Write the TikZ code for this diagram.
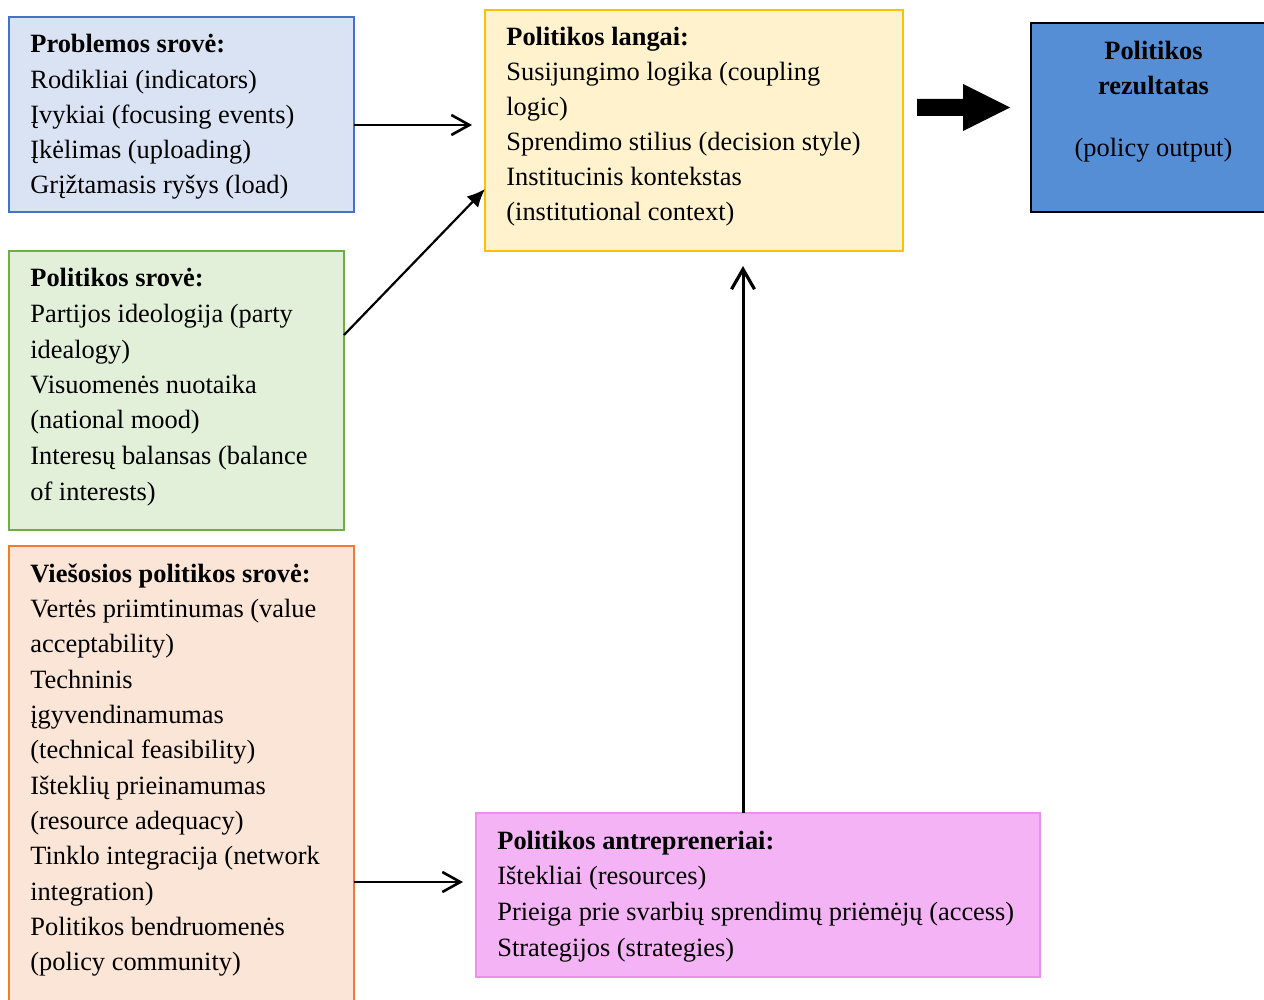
\documentclass[tikz,border=0pt]{standalone}
\usepackage{fontspec}
\setmainfont{Liberation Serif}
\usetikzlibrary{arrows.meta}
\definecolor{probfill}{HTML}{DAE3F3}
\definecolor{probline}{HTML}{4472C4}
\definecolor{polfill}{HTML}{E2F0D9}
\definecolor{polline}{HTML}{70AD47}
\definecolor{viesfill}{HTML}{FBE5D6}
\definecolor{viesline}{HTML}{ED7D31}
\definecolor{langfill}{HTML}{FFF2CC}
\definecolor{langline}{HTML}{FFC000}
\definecolor{rezfill}{HTML}{558ED5}
\definecolor{entfill}{HTML}{F4B3F4}
\definecolor{entline}{HTML}{EE8FEE}
\begin{document}
\begin{tikzpicture}[x=0.5pt,y=-0.5pt,
  box/.style={rectangle,inner sep=0pt,outer sep=0pt,anchor=center},
  txt/.style={anchor=base west,inner sep=0pt,font=\fontsize{13.2}{15}\selectfont},
  ttl/.style={txt,font=\fontsize{13.2}{15}\selectfont\bfseries},
  ctxt/.style={anchor=base,inner sep=0pt,font=\fontsize{13.2}{15}\selectfont},
  openarr/.style={line width=1.1pt,-{Straight Barb[length=9pt,width=10pt,line width=1.3pt]}},
  thickarr/.style={line width=1.5pt,-{Straight Barb[length=10pt,width=11.5pt,line width=1.6pt]}},
  fillarr/.style={line width=1.1pt,-{Latex[length=9pt,width=8pt]}}
]
\useasboundingbox (0,0) rectangle (1264,1000);

% boxes
\node[box,fill=probfill,draw=probline,line width=1pt,minimum width=172.5pt,minimum height=97.5pt] (prob) at (181.5,114.5) {};
\node[box,fill=polfill,draw=polline,line width=1pt,minimum width=167.5pt,minimum height=139.5pt] (pol) at (176.5,390.5) {};
\node[box,fill=viesfill,draw=viesline,line width=1pt,minimum width=172.5pt,minimum height=232pt] (vies) at (181.5,778) {};
\node[box,fill=langfill,draw=langline,line width=0.6pt,minimum width=209pt,minimum height=120.5pt] (lang) at (694,130.5) {};
\node[box,fill=rezfill,draw=black,line width=0.8pt,minimum width=122.5pt,minimum height=94.5pt] (rez) at (1153.5,117.5) {};
\node[box,fill=entfill,draw=entline,line width=0.6pt,minimum width=282pt,minimum height=82pt] (ent) at (758,895) {};

% problem stream
\node[ttl] (probt) at (30,53) {Problemos srovė:};
\foreach \t [count=\i] in {Rodikliai (indicators),Įvykiai (focusing events),Įkėlimas (uploading),Grįžtamasis ryšys (load)}
  \node[txt] (probl\i) at (30,{53+\i*35.25}) {\t};

% politics stream
\node[ttl] (polt) at (30,287) {Politikos srovė:};
\foreach \t [count=\i] in {Partijos ideologija (party,idealogy),Visuomenės nuotaika,(national mood),Interesų balansas (balance,of interests)}
  \node[txt] (poll\i) at (30,{287+\i*35.5}) {\t};

% policy stream
\node[ttl] (viest) at (30,582) {Viešosios politikos srovė:};
\foreach \t [count=\i] in {Vertės priimtinumas (value,acceptability),Techninis,įgyvendinamumas,(technical feasibility),Išteklių prieinamumas,(resource adequacy),Tinklo integracija (network,integration),Politikos bendruomenės,(policy community)}
  \node[txt] (viesl\i) at (30,{582+\i*35.36}) {\t};

% policy windows
\node[ttl] (langt) at (506,46) {Politikos langai:};
\foreach \t [count=\i] in {Susijungimo logika (coupling,logic),Sprendimo stilius (decision style),Institucinis kontekstas,(institutional context)}
  \node[txt] (langl\i) at (506,{46+\i*35}) {\t};

% entrepreneurs
\node[ttl] (entt) at (497,849) {Politikos antrepreneriai:};
\foreach \t [count=\i] in {Ištekliai (resources),Prieiga prie svarbių sprendimų priėmėjų (access),Strategijos (strategies)}
  \node[txt] (entl\i) at (497,{849+\i*35.7}) {\t};

% output
\node[ctxt,font=\fontsize{13.2}{15}\selectfont\bfseries] (rez1) at (1153.5,60) {Politikos};
\node[ctxt,font=\fontsize{13.2}{15}\selectfont\bfseries] (rez2) at (1153.5,94.5) {rezultatas};
\node[ctxt] (rez3) at (1153.5,157) {(policy output)};

% block arrow
\fill[black] (917,99) -- (963,99) -- (963,84) -- (1010,107.5) -- (963,131) -- (963,116) -- (917,116) -- cycle;

% connectors
\coordinate (a1end) at (472,125);
\draw[openarr] (prob.east |- a1end) -- (a1end);
\draw[fillarr] ([yshift=27.75pt]pol.east) -- ([yshift=-29.25pt]lang.west);
\coordinate (a3end) at (463,882);
\draw[openarr] (vies.east |- a3end) -- (a3end);
\coordinate (a4end) at (743,266);
\draw[thickarr] (a4end |- ent.north) -- (a4end);
\end{tikzpicture}
\end{document}
